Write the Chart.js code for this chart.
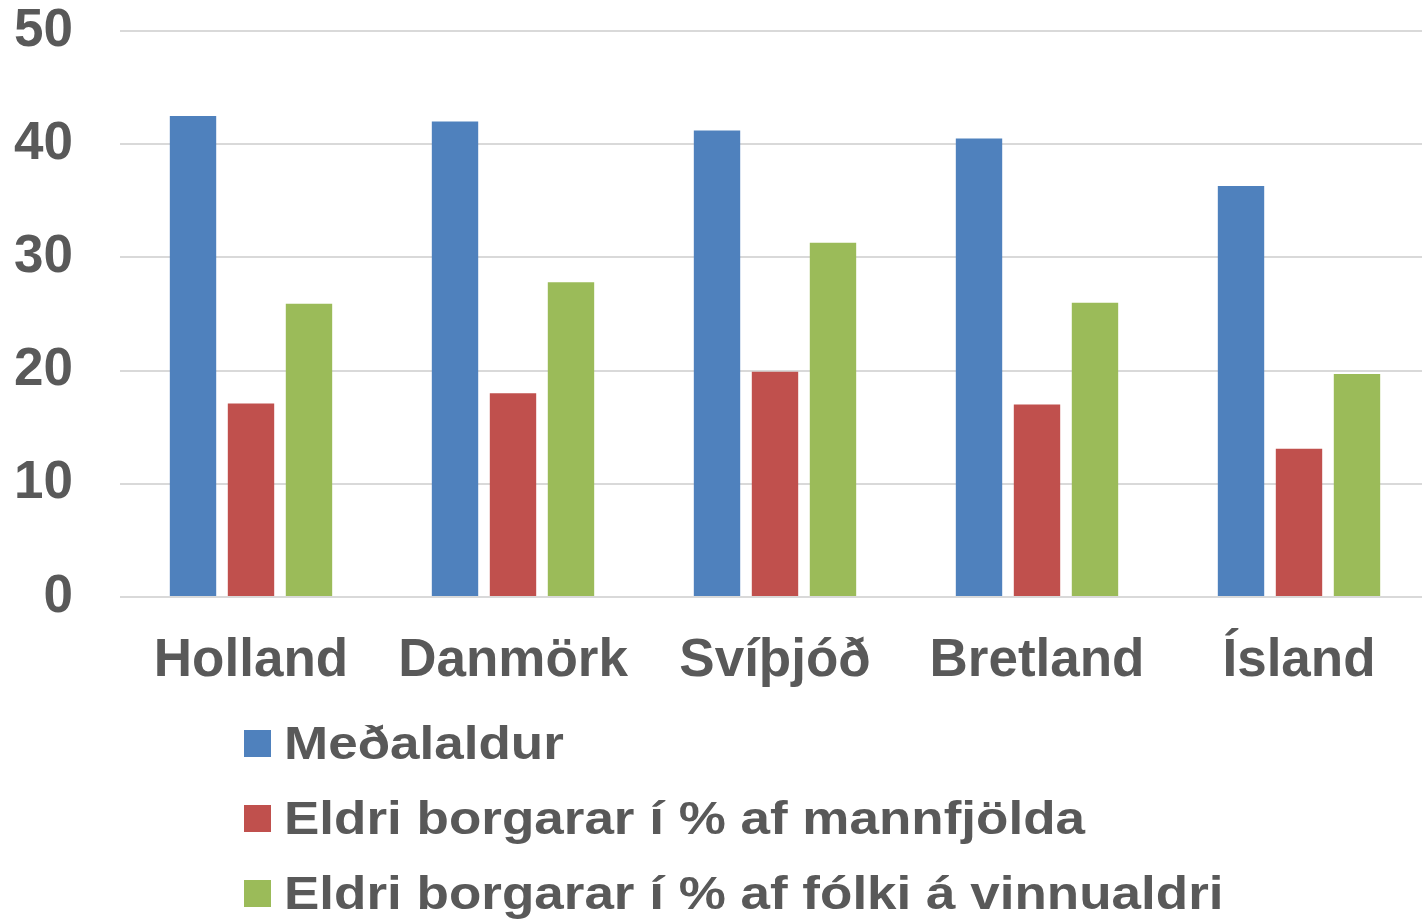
<!DOCTYPE html>
<html>
<head>
<meta charset="utf-8">
<script src="https://cdn.jsdelivr.net/npm/chart.js@4/dist/chart.umd.min.js"></script>
<style>
    html, body { margin: 0; padding: 0; background: #ffffff; overflow: hidden; }
    #wrap { position: relative; width: 1430px; height: 921px; }
    #legend { position: absolute; left: 244px; top: 706px; }
    .row { display: flex; align-items: center; height: 75px; }
    .box { width: 27px; height: 27px; margin-right: 13px; }
    .label {
        display: inline-block;
        font: bold 53px "Liberation Sans", Arial, sans-serif;
        line-height: 1;
        color: #595959;
        white-space: nowrap;
        transform: scaleY(0.86);
    }
</style>
</head>
<body>
<div id="wrap">
    <canvas id="myChart"></canvas>
    <div id="legend"></div>
</div>
<script>
let categories = ['Holland', 'Danmörk', 'Svíþjóð', 'Bretland', 'Ísland'];
let seriesNames = [
    'Meðalaldur',
    'Eldri borgarar í % af mannfjölda',
    'Eldri borgarar í % af fólki á vinnualdri'
];
let medalaldur = [42.5, 42.0, 41.2, 40.5, 36.3];
let hlutfallMannfjolda = [17.1, 18.0, 19.9, 17.0, 13.1];
let hlutfallVinnualdri = [25.9, 27.8, 31.3, 26.0, 19.7];
let yTicks = [0, 10, 20, 30, 40, 50];

let colors = ['#4F81BD', '#C0504D', '#9BBB59'];

const myChart = document.getElementById('myChart');
const legend = document.getElementById('legend');
const textColor = '#595959';
const fontFamily = '"Liberation Sans", Arial, sans-serif';

//build the datasets from the named arrays
let seriesValues = [medalaldur, hlutfallMannfjolda, hlutfallVinnualdri];
let datasets = seriesNames.map((name, i) => ({
    label: name,
    data: seriesValues[i],
    backgroundColor: colors[i],
    borderWidth: 0,
    categoryPercentage: 0.664,
    barPercentage: 0.8
}));

let chart = new Chart(myChart, {
    type: 'bar',
    data: {
        labels: categories,
        datasets: datasets
    },
    options: {
        responsive: true,
        maintainAspectRatio: false,
        animation: false,
        layout: {
            padding: { left: 13, right: 0, top: 0, bottom: 230 }
        },
        plugins: {
            legend: { display: false },
            tooltip: { enabled: false }
        },
        scales: {
            x: {
                grid: { display: false, drawTicks: false },
                border: { display: false },
                ticks: {
                    color: textColor,
                    padding: 33,
                    font: { family: fontFamily, size: 53, weight: 'bold' }
                },
                afterFit: (axis) => {
                    axis.height = 94;
                    axis.paddingLeft = 0;
                    axis.paddingRight = 0;
                }
            },
            y: {
                min: 0,
                max: 50,
                afterBuildTicks: (axis) => {
                    axis.ticks = yTicks.map(v => ({ value: v }));
                },
                grid: { color: '#d9d9d9', lineWidth: 2, drawTicks: false },
                border: { display: false },
                ticks: {
                    color: textColor,
                    padding: 47,
                    font: { family: fontFamily, size: 53, weight: 'bold' }
                },
                afterFit: (axis) => {
                    axis.width = 107;
                    axis.paddingTop = 31;
                    axis.paddingBottom = 0;
                }
            }
        }
    }
});

//legend stacked under the chart
chart.data.datasets.forEach(ds => {
    let row = document.createElement('div');
    row.className = 'row';
    let box = document.createElement('span');
    box.className = 'box';
    box.style.background = ds.backgroundColor;
    row.appendChild(box);
    let label = document.createElement('span');
    label.className = 'label';
    label.innerText = ds.label;
    row.appendChild(label);
    legend.appendChild(row);
});
</script>
</body>
</html>
